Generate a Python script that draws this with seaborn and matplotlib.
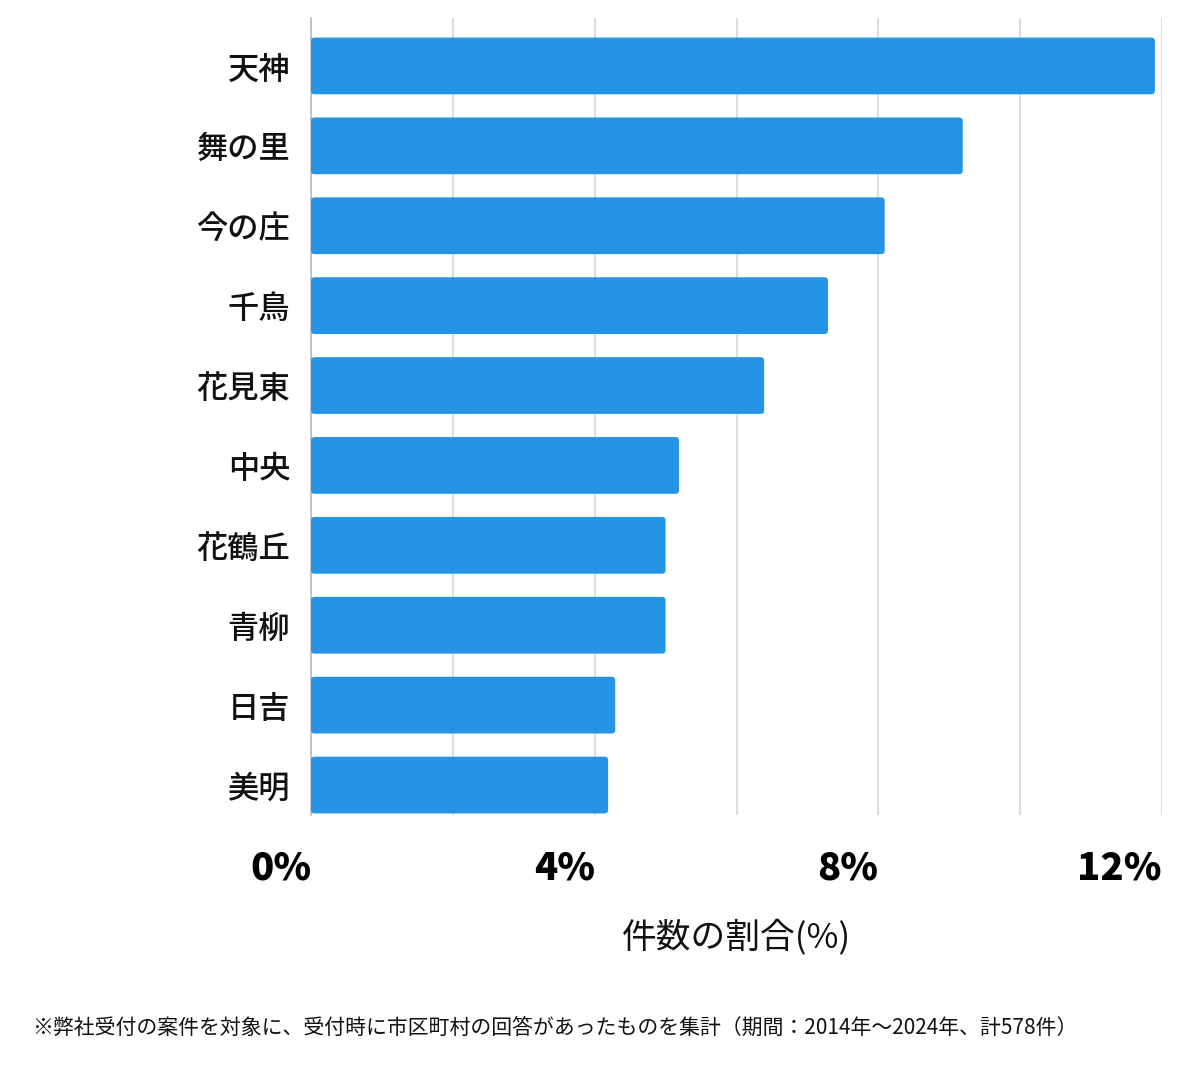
import matplotlib
matplotlib.use("Agg")
import matplotlib.pyplot as plt
import seaborn as sns
import pandas as pd
from matplotlib.patches import FancyBboxPatch

areas = ["天神", "舞の里", "今の庄", "千鳥", "花見東", "中央", "花鶴丘", "青柳", "日吉", "美明"]
shares = [11.90, 9.19, 8.09, 7.29, 6.39, 5.19, 5.00, 5.00, 4.29, 4.19]
tick_values = [0, 2, 4, 6, 8, 10, 12]
tick_labels = ["0%", "", "4%", "", "8%", "", "12%"]
x_title = "件数の割合(%)"
footnote = "※弊社受付の案件を対象に、受付時に市区町村の回答があったものを集計（期間：2014年～2024年、計578件）"

sns.set_theme(style="white")
plt.rcParams["font.family"] = ["Noto Sans CJK JP", "DejaVu Sans"]

df = pd.DataFrame({"area": areas, "share": shares})

fig = plt.figure(figsize=(12, 10.69), dpi=100)
ax = fig.add_axes([311 / 1200, 1 - 815 / 1069, 851 / 1200, 797 / 1069])

sns.barplot(data=df, y="area", x="share", orient="h", color="#2594e5",
            saturation=1, width=0.71, ax=ax, zorder=3)

# swap plain bars for slightly rounded ones
for p in list(ax.patches):
    x, y = p.get_x(), p.get_y()
    w, h = p.get_width(), p.get_height()
    rb = FancyBboxPatch((x, y), w, h, boxstyle="round,pad=0,rounding_size=0.05",
                        mutation_aspect=0.8865, facecolor="#2594e5",
                        edgecolor="none", zorder=3)
    p.remove()
    ax.add_patch(rb)

ax.set_xlim(0, 12)
ax.set_ylim(9.375, -0.6)
ax.set_xticks(tick_values)
ax.set_xticklabels(tick_labels, fontsize=27.5, fontweight="heavy", ha="right", color="black")
ax.tick_params(axis="x", length=0, pad=25)
ax.tick_params(axis="y", length=0, pad=15)
for lab in ax.get_yticklabels():
    lab.set_fontsize(22.5)
    lab.set_fontweight("medium")
    lab.set_color("#111111")

ax.grid(axis="x", color="#dddddd", linewidth=1.5, zorder=0)
for s in ["top", "right", "bottom"]:
    ax.spines[s].set_visible(False)
ax.spines["left"].set_color("#bbbbbb")
ax.spines["left"].set_linewidth(1.2)

ax.set_ylabel("")
ax.set_xlabel(x_title, fontsize=25, labelpad=23, color="#111111")

fig.text(32 / 1200, 1 - 1028 / 1069, footnote, fontsize=15, va="center", color="#111111")

fig.savefig("out.png", dpi=100)
